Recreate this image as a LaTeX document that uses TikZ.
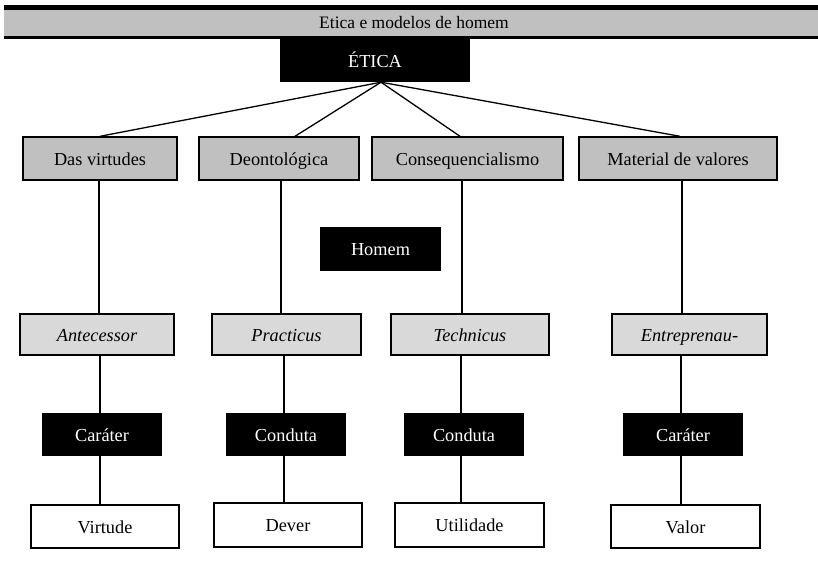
\documentclass[tikz,border=0pt]{standalone}
\usepackage{fontspec}
\setmainfont{Liberation Serif}
\definecolor{titlegrey}{HTML}{C0C0C0}
\definecolor{boxgrey}{HTML}{C0C0C0}
\definecolor{lightgrey}{HTML}{D9D9D9}
\begin{document}
\begin{tikzpicture}[x=1pt,y=-1pt,
  txt/.style={font=\fontsize{18.3}{20}\selectfont, text height=14.5pt, text depth=1.5pt},
  box/.style={txt, draw=black, line width=1.4pt, inner sep=0pt, minimum height=43pt},
  greybox/.style={box, fill=boxgrey},
  italbox/.style={box, fill=lightgrey, font=\fontsize{18.3}{20}\selectfont\itshape, minimum height=41pt},
  blackbox/.style={txt, fill=black, text=white, inner sep=0pt, minimum height=43pt},
  whitebox/.style={box, fill=white, line width=1.8pt},
  link/.style={line width=1.3pt, draw=black}]
\useasboundingbox (0,0) rectangle (818,582);
% title bar
\fill[black] (4,5) rectangle (818,38.5);
\fill[titlegrey] (4,10) rectangle (818,36);
\node[font=\fontsize{17.5}{19}\selectfont, inner sep=0pt] (title) at (414,23) {Etica e modelos de homem};
% top node
\node[blackbox, minimum width=190pt] (etica) at (375,60.5) {ÉTICA};
\coordinate (apex) at ([xshift=6pt]etica.south);
% row 1
\node[greybox, minimum width=154pt] (g1) at (100,158.5) {Das virtudes};
\node[greybox, minimum width=160pt] (g2) at (279,158.5) {Deontológica};
\node[greybox, minimum width=191pt] (g3) at (467.5,158.5) {Consequencialismo};
\node[greybox, minimum width=198pt] (g4) at (678,158.5) {Material de valores};
% centre
\node[blackbox, minimum width=121pt, minimum height=44pt] (homem) at (380.5,249) {Homem};
% row 2
\node[italbox, minimum width=154pt] (i1) at (97,334.5) {Antecessor};
\node[italbox, minimum width=149pt] (i2) at (286.5,334.5) {Practicus};
\node[italbox, minimum width=158pt] (i3) at (470,334.5) {Technicus};
\node[italbox, minimum width=155pt] (i4) at (689.5,334.5) {Entreprenau-};
% row 3
\node[blackbox, minimum width=120pt] (b1) at (102,434.5) {Caráter};
\node[blackbox, minimum width=120pt] (b2) at (286,434.5) {Conduta};
\node[blackbox, minimum width=120pt] (b3) at (464,434.5) {Conduta};
\node[blackbox, minimum width=120pt] (b4) at (683,434.5) {Caráter};
% row 4
\node[whitebox, minimum width=148pt] (w1) at (105,526.5) {Virtude};
\node[whitebox, minimum width=148pt, minimum height=44pt] (w2) at (288,525) {Dever};
\node[whitebox, minimum width=149pt, minimum height=44pt] (w3) at (469.5,525) {Utilidade};
\node[whitebox, minimum width=149pt] (w4) at (685.5,526.5) {Valor};
% fan from ÉTICA
\draw[link] (apex) -- (g1.north);
\draw[link] (apex) -- ([xshift=16pt]g2.north);
\draw[link] (apex) -- ([xshift=-7.5pt]g3.north);
\draw[link] (apex) -- ([xshift=2pt]g4.north);
% row 1 -> row 2
\draw[link] ([xshift=-1pt]g1.south) -- ([xshift=-1pt]g1.south |- i1.north);
\draw[link] ([xshift=2pt]g2.south) -- ([xshift=2pt]g2.south |- i2.north);
\draw[link] ([xshift=-5.5pt]g3.south) -- ([xshift=-5.5pt]g3.south |- i3.north);
\draw[link] ([xshift=4pt]g4.south) -- ([xshift=4pt]g4.south |- i4.north);
% row 2 -> row 3
\draw[link] ([xshift=3pt]i1.south) -- ([xshift=3pt]i1.south |- b1.north);
\draw[link] ([xshift=-2.5pt]i2.south) -- ([xshift=-2.5pt]i2.south |- b2.north);
\draw[link] ([xshift=-9pt]i3.south) -- ([xshift=-9pt]i3.south |- b3.north);
\draw[link] ([xshift=-8.5pt]i4.south) -- ([xshift=-8.5pt]i4.south |- b4.north);
% row 3 -> row 4
\draw[link] ([xshift=-2pt]b1.south) -- ([xshift=-2pt]b1.south |- w1.north);
\draw[link] ([xshift=-2pt]b2.south) -- ([xshift=-2pt]b2.south |- w2.north);
\draw[link] ([xshift=-3pt]b3.south) -- ([xshift=-3pt]b3.south |- w3.north);
\draw[link] ([xshift=-2pt]b4.south) -- ([xshift=-2pt]b4.south |- w4.north);
\end{tikzpicture}
\end{document}
